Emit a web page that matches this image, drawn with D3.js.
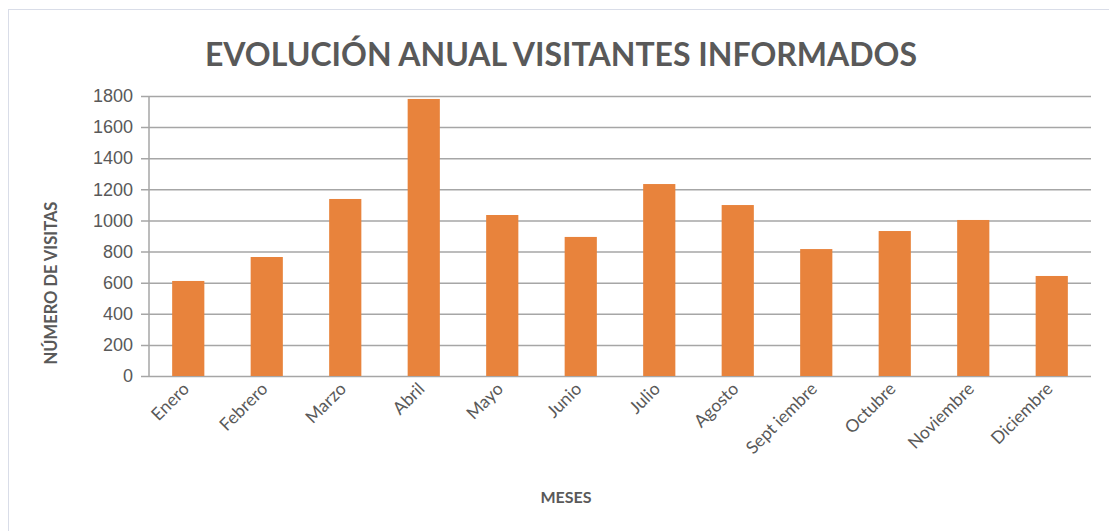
<!DOCTYPE html>
<html>
<head>
<meta charset="utf-8">
<script src="https://cdn.jsdelivr.net/npm/d3@7"></script>
<style>
  body { margin: 0; background: #fff; }
  svg { display: block; font-family: Lato, "Open Sans", sans-serif; }
</style>
</head>
<body>
<script>
// Data
const months = ["Enero", "Febrero", "Marzo", "Abril", "Mayo", "Junio", "Julio",
    "Agosto", "Sept iembre", "Octubre", "Noviembre", "Diciembre"];
const visits = [611, 765, 1138, 1781, 1035, 894, 1234, 1099, 816, 932, 1003, 643];
const yTicks = [0, 200, 400, 600, 800, 1000, 1200, 1400, 1600, 1800];

const width = 1109;
const height = 531;
const margin = { top: 96, right: 18, bottom: 155, left: 149 };

const svg = d3.select("body").append("svg")
    .attr("width", width)
    .attr("height", height);

// Chart frame
svg.append("rect")
    .attr("x", 8.5).attr("y", 9.5)
    .attr("width", width + 10).attr("height", height + 10)
    .attr("fill", "none")
    .attr("stroke", "#d9dde8");

const x = d3.scaleBand()
    .domain(months)
    .range([margin.left, width - margin.right])
    .paddingInner(0.59)
    .paddingOuter(0.295);

const y = d3.scaleLinear()
    .domain([0, 1800])
    .range([height - margin.bottom, margin.top]);

// Gridlines and y axis
const yAxis = svg.append("g")
    .attr("transform", `translate(${margin.left},0)`)
    .call(d3.axisLeft(y).tickValues(yTicks).tickFormat(d3.format("d"))
        .tickSizeInner(-(width - margin.right - margin.left)).tickSizeOuter(0))
    .call(g => g.select(".domain").remove());
yAxis.selectAll(".tick line")
    .attr("x1", -8)
    .attr("stroke", "#a6a6a6")
    .attr("stroke-width", 1.5);
yAxis.selectAll(".tick text")
    .attr("x", -16)
    .attr("fill", "#595959")
    .style("font-size", "18px");

svg.append("line")
    .attr("x1", margin.left).attr("x2", margin.left)
    .attr("y1", y(1800)).attr("y2", y(0))
    .attr("stroke", "#a6a6a6")
    .attr("stroke-width", 1.5);

// Bars
svg.append("g")
    .selectAll("rect")
    .data(visits)
    .join("rect")
    .attr("x", (d, i) => x(months[i]))
    .attr("y", d => y(d))
    .attr("width", x.bandwidth())
    .attr("height", d => y(0) - y(d))
    .attr("fill", "#e8833c");

// Month labels
svg.append("g")
    .selectAll("text")
    .data(months)
    .join("text")
    .attr("transform", d => `translate(${x(d) + x.bandwidth() / 2 + 2},${y(0) + 14}) rotate(-45)`)
    .attr("text-anchor", "end")
    .attr("fill", "#595959")
    .style("font-size", "17.5px")
    .text(d => d);

// Titles
svg.append("text")
    .attr("x", 561).attr("y", 66)
    .attr("text-anchor", "middle")
    .attr("fill", "#595959")
    .style("font-size", "32px")
    .style("font-weight", "bold")
    .text("EVOLUCIÓN ANUAL VISITANTES INFORMADOS");

svg.append("text")
    .attr("transform", "translate(57,283) rotate(-90)")
    .attr("text-anchor", "middle")
    .attr("fill", "#595959")
    .style("font-size", "16.5px")
    .style("font-weight", "bold")
    .text("NÚMERO DE VISITAS");

svg.append("text")
    .attr("x", 566).attr("y", 503)
    .attr("text-anchor", "middle")
    .attr("fill", "#595959")
    .style("font-size", "16px")
    .style("font-weight", "bold")
    .text("MESES");
</script>
</body>
</html>
